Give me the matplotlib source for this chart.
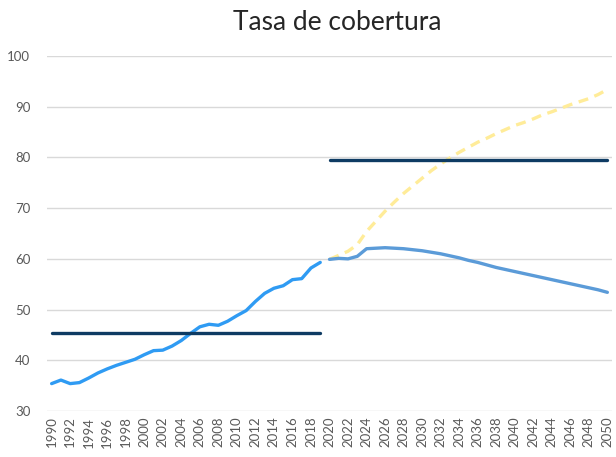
import numpy as np
import matplotlib
matplotlib.use('Agg')
import matplotlib.pyplot as plt

plt.rcParams['font.family'] = ['Lato', 'DejaVu Sans']

# Historical coverage rate 1990-2019
hist_years = np.arange(1990, 2020)
hist_values = [35.4, 36.1, 35.4, 35.6, 36.5, 37.5, 38.3, 39.0, 39.6, 40.2,
               41.1, 41.9, 42.0, 42.8, 43.9, 45.3, 46.6, 47.1, 46.9, 47.7,
               48.8, 49.8, 51.6, 53.2, 54.2, 54.7, 55.9, 56.1, 58.2, 59.3]

# Projections 2020-2050
proj_years = np.arange(2020, 2051)
proj_base = [59.9, 60.1, 60.0, 60.5, 62.0, 62.1, 62.2, 62.1, 62.0, 61.8,
             61.6, 61.3, 61.0, 60.6, 60.2, 59.7, 59.3, 58.8, 58.3, 57.9,
             57.5, 57.1, 56.7, 56.3, 55.9, 55.5, 55.1, 54.7, 54.3, 53.9, 53.4]
proj_alt = [59.9, 60.7, 61.5, 62.8, 65.4, 67.4, 69.4, 71.2, 72.9, 74.4,
            75.9, 77.4, 78.7, 79.9, 81.0, 82.0, 83.0, 83.8, 84.7, 85.5,
            86.3, 86.9, 87.6, 88.4, 89.0, 89.7, 90.4, 91.0, 91.6, 92.4, 93.4]

# Period averages
hist_avg = 45.4
proj_avg = 79.4

fig = plt.figure(figsize=(6.16, 4.57), dpi=100)
ax = fig.add_axes([47 / 616, 1 - 411 / 457, 565 / 616, 355 / 457])

ax.plot(hist_years, hist_values, color='#2F9BF3', linewidth=2.4, solid_capstyle='round', zorder=3)
ax.plot(proj_years, proj_alt, color='#FFEC99', linewidth=2.4, linestyle=(0, (3, 2)), zorder=2)
ax.plot(proj_years, proj_base, color='#5B9BD8', linewidth=2.4, solid_capstyle='round', zorder=3)
ax.plot(hist_years, [hist_avg] * len(hist_years), color='#0E3B63', linewidth=2.4, solid_capstyle='round', zorder=4)
ax.plot(proj_years, [proj_avg] * len(proj_years), color='#0E3B63', linewidth=2.4, solid_capstyle='round', zorder=4)

ax.set_xlim(1989.5, 2050.5)
ax.set_ylim(30, 100)
ax.set_yticks(np.arange(30, 101, 10))
ax.set_xticks(np.arange(1990, 2051, 2))
ax.set_xticklabels([str(y) for y in range(1990, 2051, 2)], rotation=90)

ax.grid(axis='y', color='#D9D9D9', linewidth=1)
ax.set_axisbelow(True)
for spine in ax.spines.values():
    spine.set_visible(False)
ax.tick_params(axis='both', length=0, colors='#595959', labelsize=9.5)
ax.tick_params(axis='y', pad=12)
ax.tick_params(axis='x', pad=4)

fig.text(337 / 616, 1 - 22 / 457, 'Tasa de cobertura', ha='center', va='center',
         fontsize=19, color='#262626')

fig.savefig('out.png', dpi=100)
